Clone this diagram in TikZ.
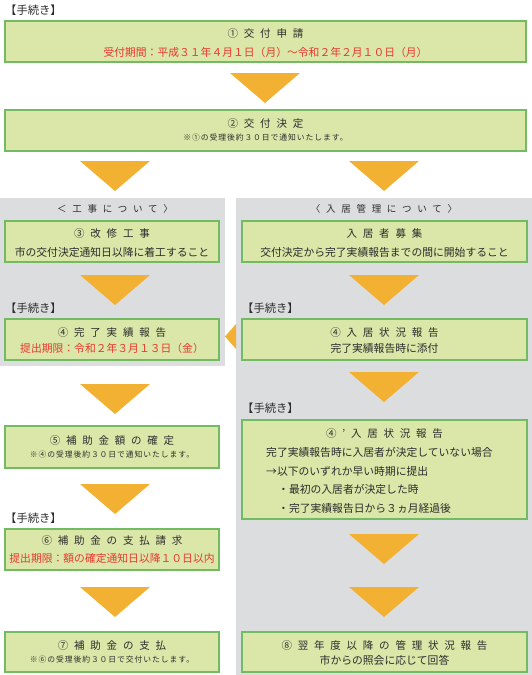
\documentclass[tikz,border=0pt]{standalone}
\usepackage{fontspec}
\setmainfont{Noto Sans CJK JP}
\newfontfamily\jpt[LetterSpace=55]{Noto Sans CJK JP}
\newfontfamily\jph[LetterSpace=60]{Noto Sans CJK JP}
\newfontfamily\jpn[LetterSpace=12]{Noto Sans CJK JP}
\definecolor{boxfill}{HTML}{DAE7A9}
\definecolor{boxline}{HTML}{72BB63}
\definecolor{panelgray}{HTML}{DCDDDF}
\definecolor{arrorange}{HTML}{F3B134}
\definecolor{redtext}{HTML}{E8382E}
\definecolor{ink}{HTML}{2B2B2B}
\begin{document}
\begin{tikzpicture}[x=1pt,y=-1pt,
  panel/.style={fill=panelgray, draw=none},
  box/.style={draw=boxline, line width=1.1pt, fill=boxfill, inner sep=0pt},
  lbox/.style={box, minimum width=214pt, minimum height=41pt},
  rbox/.style={box, minimum width=285pt, minimum height=41pt},
  arr/.style={fill=arrorange},
  ttl/.style={font=\jpt\fontsize{10.5}{12}\selectfont, text=ink, inner sep=0pt},
  hdr/.style={font=\jph\fontsize{9.5}{11}\selectfont, text=ink, inner sep=0pt},
  body/.style={font=\fontsize{10.8}{12}\selectfont, text=ink, inner sep=0pt},
  redt/.style={body, text=redtext},
  note/.style={font=\jpn\fontsize{7.8}{9}\selectfont, text=ink, inner sep=0pt},
  proc/.style={font=\fontsize{11.3}{13}\selectfont, text=ink, inner sep=0pt, anchor=west},
]
\useasboundingbox (0,0) rectangle (532,675);
% panels
\fill[panel] (0,198) rectangle (225,366);
\fill[panel] (236,198) rectangle (532,675);

% top
\node[proc] (p0) at (5,10) {【手続き】};
\node[box, minimum width=521pt, minimum height=41pt] (b1) at (265.5,41.5) {};
\node[ttl] (b1t) at (265.5,34) {①交付申請};
\node[redt] (b1r) at (265.5,52) {受付期間：平成３１年４月１日（月）～令和２年２月１０日（月）};
\fill[arr] (230,73) -- (300,73) -- (265,103) -- cycle;

\node[box, minimum width=521pt, minimum height=41pt] (b2) at (265.5,130.5) {};
\node[ttl] (b2t) at (265.5,123.5) {②交付決定};
\node[note] (b2n) at (265.5,137.5) {※①の受理後約３０日で通知いたします。};
\fill[arr] (80,161) -- (150,161) -- (115,191) -- cycle;
\fill[arr] (349,161) -- (419,161) -- (384,191) -- cycle;

% headers
\node[hdr] (hl) at (115,209) {＜工事について〉};
\node[hdr] (hr) at (384,209) {〈入居管理について〉};

% row 3
\node[lbox] (b3) at (112,241.5) {};
\node[ttl] (b3t) at (112,234) {③改修工事};
\node[body] (b3b) at (112,252) {市の交付決定通知日以降に着工すること};
\node[rbox] (r1) at (384.5,241.5) {};
\node[ttl] (r1t) at (384.5,234) {入居者募集};
\node[body] (r1b) at (384.5,252) {交付決定から完了実績報告までの間に開始すること};
\fill[arr] (80,275) -- (150,275) -- (115,305) -- cycle;
\fill[arr] (349,275) -- (419,275) -- (384,305) -- cycle;

% row 4
\node[proc] (p4l) at (5,308) {【手続き】};
\node[proc] (p4r) at (242,308) {【手続き】};
\node[lbox] (b4) at (112,339.5) {};
\node[ttl] (b4t) at (112,333) {④完了実績報告};
\node[redt] (b4r) at (112,348) {提出期限：令和２年３月１３日（金）};
\node[rbox] (r4) at (384.5,339.5) {};
\node[ttl] (r4t) at (384.5,333) {④入居状況報告};
\node[body] (r4b) at (384.5,348) {完了実績報告時に添付};
\fill[arr] (236,324) -- (236,349) -- (225,336.5) -- cycle;

% row 5
\fill[arr] (80,384) -- (150,384) -- (115,414) -- cycle;
\fill[arr] (349,372) -- (419,372) -- (384,402) -- cycle;
\node[proc] (p5r) at (242,408) {【手続き】};
\node[lbox, minimum height=42pt] (b5) at (112,447) {};
\node[ttl] (b5t) at (112,441) {⑤補助金額の確定};
\node[note] (b5n) at (112,455) {※④の受理後約３０日で通知いたします。};
\node[rbox, minimum height=99pt] (r5) at (384.5,469.5) {};
\node[ttl] (r5t) at (384.5,434) {④’入居状況報告};
\node[body, anchor=west] (r5a) at (266,452.5) {完了実績報告時に入居者が決定していない場合};
\node[body, anchor=west] (r5b) at (266,471) {→以下のいずれか早い時期に提出};
\node[body, anchor=west] (r5c) at (278,489.5) {・最初の入居者が決定した時};
\node[body, anchor=west] (r5d) at (278,508) {・完了実績報告日から３ヵ月経過後};

% row 6
\fill[arr] (80,484) -- (150,484) -- (115,514) -- cycle;
\node[proc] (p6) at (5,518) {【手続き】};
\node[lbox] (b6) at (112,549.5) {};
\node[ttl] (b6t) at (112,541) {⑥補助金の支払請求};
\node[redt] (b6r) at (112,558) {提出期限：額の確定通知日以降１０日以内};
\fill[arr] (349,534) -- (419,534) -- (384,564) -- cycle;

% row 7
\fill[arr] (80,587) -- (150,587) -- (115,617) -- cycle;
\fill[arr] (349,587) -- (419,587) -- (384,617) -- cycle;
\node[lbox, minimum height=40pt] (b7) at (112,652) {};
\node[ttl] (b7t) at (112,646) {⑦補助金の支払};
\node[note] (b7n) at (112,660) {※⑥の受理後約３０日で交付いたします。};
\node[rbox, minimum height=40pt] (r8) at (384.5,652) {};
\node[ttl] (r8t) at (384.5,646) {⑧翌年度以降の管理状況報告};
\node[body] (r8b) at (384.5,660) {市からの照会に応じて回答};
\end{tikzpicture}
\end{document}
